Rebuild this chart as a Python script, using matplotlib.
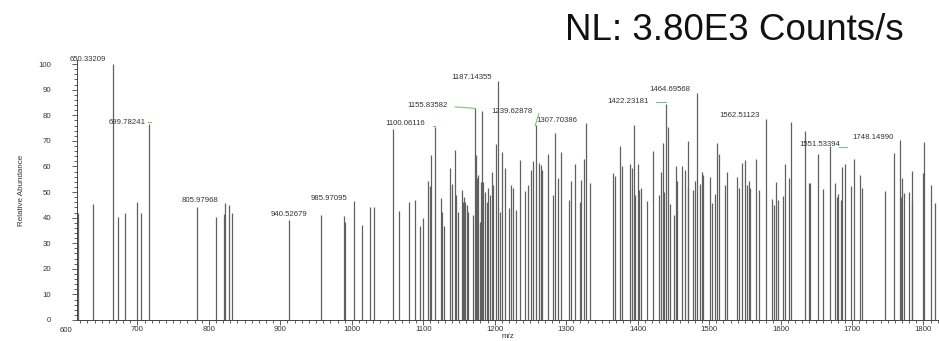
import matplotlib
matplotlib.use("Agg")
import matplotlib.pyplot as plt
import matplotlib.transforms as mtransforms
from matplotlib.ticker import MultipleLocator

plt.rcParams['font.family'] = ['Liberation Sans', 'DejaVu Sans']

# peak positions (m/z) and relative abundance
mz = [617.2, 638.2, 666.2, 672.3, 683.0, 698.9, 705.4, 715.7,
      783.8, 810.4, 821.1, 822.5, 828.6, 832.3,
      912.1, 957.3, 989.5, 990.5, 1002.6, 1014.3, 1025.0, 1030.6,
      1058.1, 1066.5, 1079.6, 1088.5, 1095.9, 1100.1, 1106.2, 1109.0, 1110.8,
      1116.9, 1124.8, 1126.7, 1129.0, 1137.9, 1139.8, 1144.9, 1146.3, 1149.1,
      1153.8, 1155.2, 1157.5, 1158.9, 1160.8, 1162.2, 1169.6, 1172.4, 1173.8,
      1175.2, 1177.1, 1179.4, 1180.8, 1182.7, 1184.1, 1186.5, 1188.8, 1191.1,
      1193.4, 1195.8, 1198.0, 1201.3, 1205.0, 1207.4, 1210.6, 1214.4, 1220.4,
      1222.8, 1226.1, 1229.8, 1235.9, 1242.4, 1246.6, 1251.3, 1253.2, 1257.4,
      1262.5, 1264.4, 1266.6, 1275.1, 1282.1, 1284.5, 1288.2, 1293.3, 1304.0,
      1306.8, 1312.4, 1319.4, 1320.8, 1325.5, 1327.4, 1333.4,
      1366.0, 1368.8, 1375.8, 1377.7, 1389.8, 1391.7, 1395.0, 1396.4, 1400.6,
      1402.4, 1404.8, 1412.7, 1422.0, 1430.4, 1432.8, 1435.2, 1437.0, 1439.8,
      1443.0, 1445.8, 1451.0, 1453.8, 1455.6, 1461.8, 1466.4, 1470.6, 1471.0,
      1478.0, 1480.8, 1482.7, 1487.3, 1489.7, 1492.0, 1500.8, 1504.1, 1507.8,
      1511.5, 1514.3, 1522.3, 1524.7, 1539.6, 1542.4, 1545.7, 1550.8, 1553.6,
      1555.6, 1557.4, 1565.7, 1570.3, 1580.3, 1588.6, 1591.4, 1594.2, 1596.1,
      1603.9, 1606.8, 1612.4, 1615.2, 1634.0, 1640.4, 1641.8, 1652.9, 1659.9,
      1669.7, 1676.3, 1679.5, 1680.9, 1685.1, 1686.1, 1690.3, 1698.7, 1702.4,
      1711.7, 1713.6, 1745.8, 1759.3, 1767.3, 1769.0, 1770.4, 1772.8, 1779.8,
      1783.6, 1784.5, 1799.8, 1801.3, 1811.2, 1815.9]
abundance = [41.7, 45.2, 100.0, 40.1, 41.7, 46.0, 42.0, 76.4,
             44.0, 40.1, 41.3, 45.6, 44.9, 42.0,
             39.1, 41.1, 40.7, 38.4, 46.6, 37.1, 44.0, 44.0,
             74.6, 42.6, 46.0, 46.8, 36.6, 39.7, 54.3, 52.3, 64.4,
             75.3, 47.5, 42.3, 36.6, 59.3, 53.3, 66.4, 48.8, 42.3,
             50.8, 46.3, 48.2, 46.3, 44.9, 42.3, 41.0, 82.7, 64.5,
             55.3, 56.6, 38.4, 53.9, 81.7, 53.9, 50.0, 46.3, 51.4,
             48.8, 57.9, 52.7, 68.6, 93.4, 42.3, 65.8, 59.5, 43.6,
             52.7, 51.4, 43.0, 62.6, 50.4, 52.7, 58.6, 62.1, 76.2,
             61.2, 60.5, 58.6, 64.7, 48.8, 73.0, 55.3, 65.8, 46.9,
             54.3, 60.9, 46.3, 54.6, 62.8, 76.8, 53.4,
             57.3, 56.4, 68.0, 60.2, 60.9, 59.3, 76.2, 48.8, 60.9,
             50.8, 51.7, 46.6, 66.1, 48.8, 57.9, 69.1, 50.0, 84.6,
             75.5, 45.2, 41.0, 60.2, 54.3, 60.2, 58.6, 69.9, 51.4,
             50.8, 54.3, 88.9, 53.0, 57.7, 56.6, 56.0, 45.6, 49.1,
             69.0, 64.7, 52.7, 57.9, 56.0, 51.4, 61.2, 62.5, 52.7,
             54.3, 51.4, 62.9, 50.8, 78.5, 47.2, 44.9, 54.0, 46.9,
             48.5, 60.8, 55.3, 77.5, 73.9, 53.4, 53.6, 65.0, 51.2,
             68.1, 53.5, 48.2, 49.1, 46.9, 59.9, 60.8, 52.5, 62.8,
             56.6, 51.4, 50.5, 65.4, 70.2, 48.2, 55.6, 49.7, 50.1,
             58.2, 46.6, 57.3, 69.4, 52.7, 45.6]

# peak annotations: text, x, y (data units)
label_text = ["650.33209", "699.78241", "805.97968", "940.52679", "985.97095",
              "1100.06116", "1155.83582", "1187.14355", "1239.62878", "1307.70386",
              "1422.23181", "1464.69568", "1562.51123", "1551.53394", "1748.14990"]
label_x = [630.8, 685.0, 787.5, 912.8, 967.8, 1074.0, 1105.9, 1167.1, 1224.5,
           1287.2, 1387.3, 1444.9, 1542.9, 1654.8, 1729.4]
label_y = [101.8, 77.2, 46.6, 41.4, 47.5, 76.6, 83.9, 94.6, 81.3, 77.9, 85.5,
           90.2, 79.8, 68.4, 71.4]

# green leader lines between label and peak
leaders = [((715.4, 718.6), (77.3, 77.3)),
           ((1113.2, 1116.4), (76.0, 76.0)),
           ((1144.4, 1172.4), (83.3, 82.7)),
           ((1256.4, 1262.0), (75.8, 80.7)),
           ((1425.8, 1439.8), (85.0, 85.0)),
           ((1682.3, 1692.6), (67.6, 67.6))]

fig = plt.figure(figsize=(9.39, 3.41), dpi=100)
ax = fig.add_axes([77 / 939, 21 / 341, 862 / 939, 260 / 341])

ax.vlines(mz, 0, abundance, color='#606060', linewidth=0.9)

for t, x, y in zip(label_text, label_x, label_y):
    ax.text(x, y, t, fontsize=5.6, color='#333333', ha='center', va='center',
            clip_on=False)
for xs, ys in leaders:
    ax.plot(xs, ys, color='#7cc47c', linewidth=0.8)

ax.set_xlim(615.4, 1821.8)
ax.set_ylim(0, 101.6)
ax.xaxis.set_major_locator(MultipleLocator(100))
ax.xaxis.set_minor_locator(MultipleLocator(10))
ax.yaxis.set_major_locator(MultipleLocator(10))
ax.yaxis.set_minor_locator(MultipleLocator(2))
ax.tick_params(axis='both', which='both', direction='out', colors='#444444',
               labelcolor='#333333', labelsize=5.6, width=0.6)
ax.tick_params(axis='both', which='major', length=3.5)
ax.tick_params(axis='both', which='minor', length=2.2)
ax.tick_params(axis='y', which='major', pad=15)
ax.tick_params(axis='x', which='major', pad=1)

# the 600 tick label sits left of the y axis in the original
trans = mtransforms.blended_transform_factory(ax.transData, ax.transAxes)
ax.text(600, -0.028, "600", transform=trans, fontsize=5.6, color='#333333',
        ha='center', va='top', clip_on=False)

for s in ['top', 'right']:
    ax.spines[s].set_visible(False)
for s in ['left', 'bottom']:
    ax.spines[s].set_color('#444444')
    ax.spines[s].set_linewidth(0.7)

ax.set_xlabel("m/z", fontsize=5.8, color='#333333', labelpad=0)
ax.set_ylabel("Relative Abundance", fontsize=5.8, color='#333333', labelpad=10)

fig.text(734 / 939, 1 - 30 / 341, "NL: 3.80E3 Counts/s", fontsize=26.5,
         color='#111111', ha='center', va='center')

fig.savefig('out.png', dpi=100)
